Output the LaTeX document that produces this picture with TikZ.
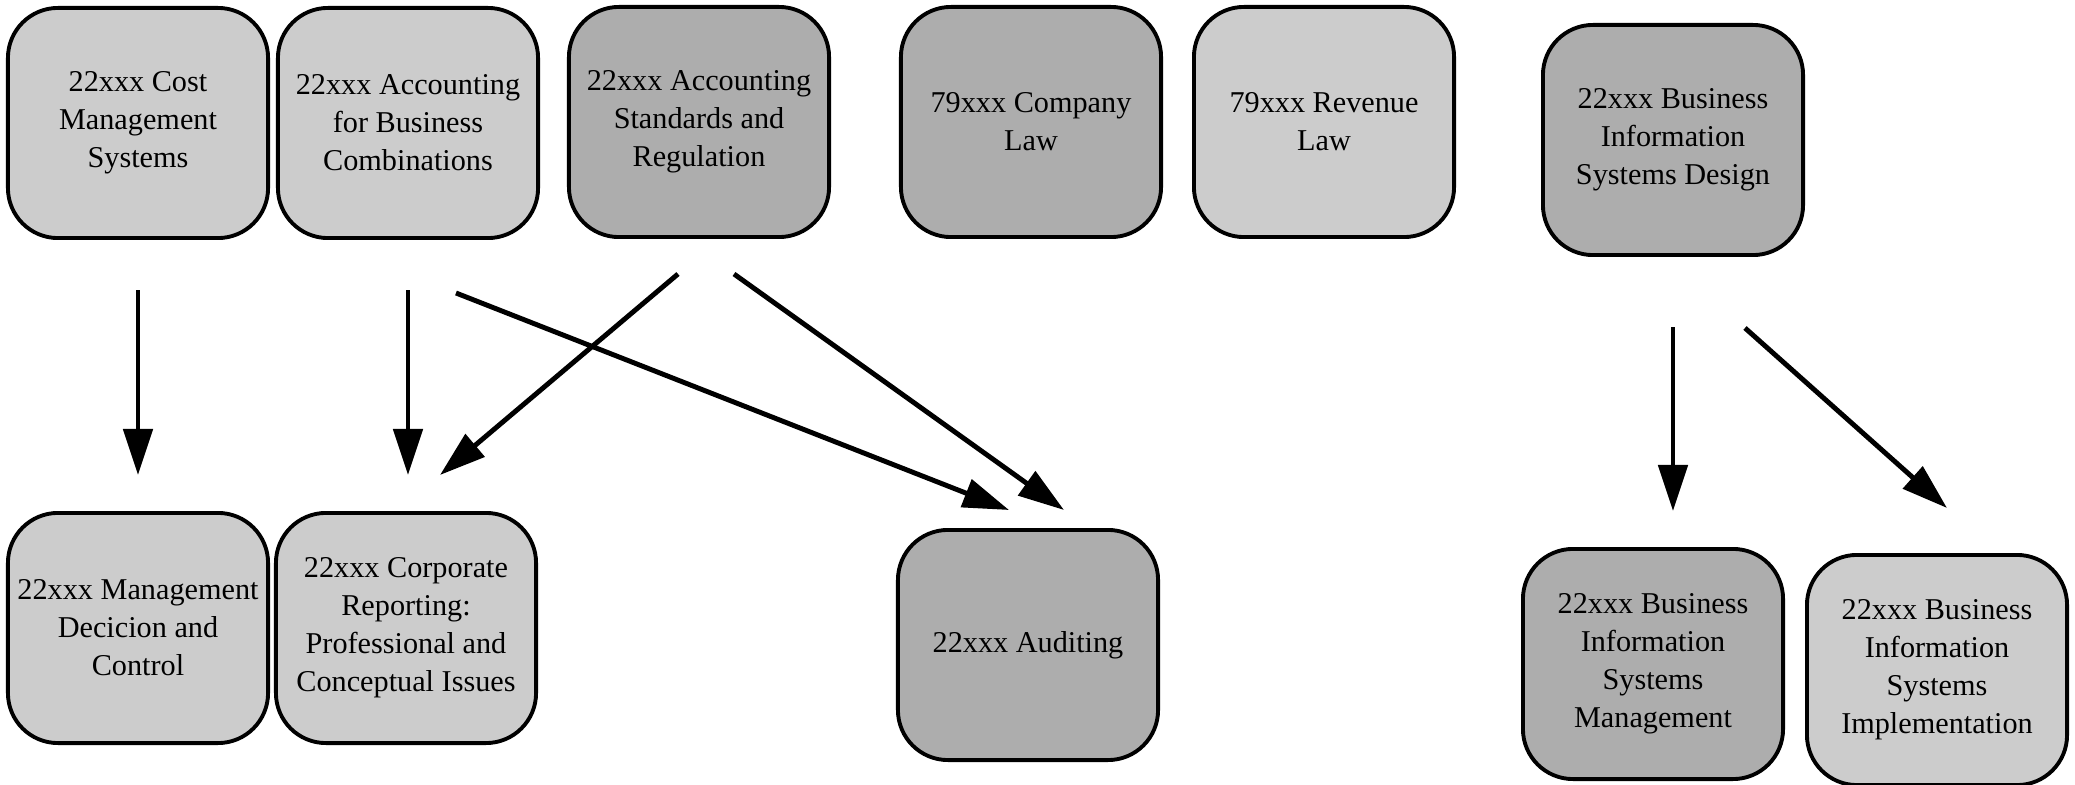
\documentclass[tikz,border=0pt]{standalone}
\usepackage{xcolor}
\usepackage{fontspec}
\setmainfont{Liberation Serif}
\usepackage{tikz}
\usetikzlibrary{arrows.meta}

\begin{document}
\begin{tikzpicture}[
    x=0.01cm, y=-0.01cm,
    box/.style={draw, line width=1.1pt, rounded corners=0.5cm, minimum width=2.6cm, minimum height=2.3cm, align=center, inner sep=2pt, font=\fontsize{8.6}{10.8}\selectfont},
    arrow/.style={-{Triangle[length=0.46cm,width=0.29cm]}, line width=1.4pt}
]
    \useasboundingbox (0,0) rectangle (2075,785);

    % Top row
    \node[box, fill=black!20] (cost) at (138,123) {22xxx Cost\\Management\\Systems};
    \node[box, fill=black!20] (acctbus) at (408,123) {22xxx Accounting\\for Business\\Combinations};
    \node[box, fill=black!32] (acctstd) at (699,122) {22xxx Accounting\\Standards and\\Regulation};
    \node[box, fill=black!32] (company) at (1031,122) {79xxx Company\\Law};
    \node[box, fill=black!20] (revenue) at (1324,122) {79xxx Revenue\\Law};
    \node[box, fill=black!32] (bisdesign) at (1673,140) {22xxx Business\\Information\\Systems Design};

    % Bottom row
    \node[box, fill=black!20] (mgmt) at (138,628) {22xxx Management\\Decicion and\\Control};
    \node[box, fill=black!20] (corprep) at (406,628) {22xxx Corporate\\Reporting:\\Professional and\\Conceptual Issues};
    \node[box, fill=black!32] (auditing) at (1028,645) {22xxx Auditing};
    \node[box, fill=black!32] (bismgmt) at (1653,664) {22xxx Business\\Information\\Systems\\Management};
    \node[box, fill=black!20] (bisimpl) at (1937,670) {22xxx Business\\Information\\Systems\\Implementation};

    % Arrows
    \draw[arrow, shorten <=0.5cm, shorten >=0.36cm] (cost.south) -- (cost.south |- mgmt.north);
    \draw[arrow, shorten <=0.5cm, shorten >=0.36cm] (acctbus.south) -- (acctbus.south |- corprep.north);
    \draw[arrow] ([shift={(48,53)}]acctbus.south) -- ([shift={(-19,-18)}]auditing.north);
    \draw[arrow] ([shift={(-21,35)}]acctstd.south) -- ([shift={(34,-36)}]corprep.north);
    \draw[arrow] ([shift={(35,35)}]acctstd.south) -- ([shift={(36,-18)}]auditing.north);
    \draw[arrow, shorten <=0.7cm, shorten >=0.36cm] (bisdesign.south) -- (bisdesign.south |- bismgmt.north);
    \draw[arrow] ([shift={(72,71)}]bisdesign.south) -- ([shift={(10,-45)}]bisimpl.north);
\end{tikzpicture}
\end{document}
